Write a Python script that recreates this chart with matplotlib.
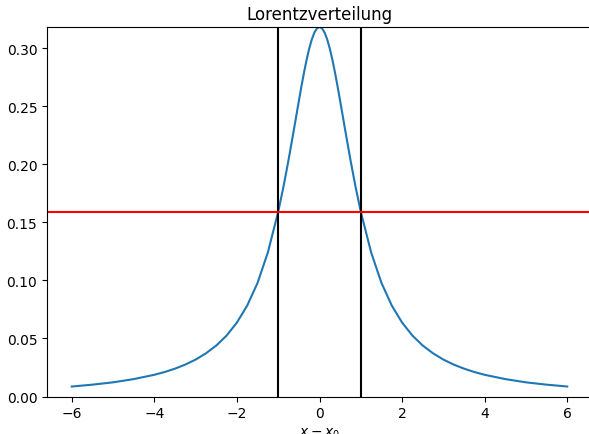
import matplotlib
matplotlib.use('Agg')
import matplotlib.pyplot as plt

# Curve values (x - x0, density), right half mirrored
x_half = [0.0625, 0.125, 0.1875, 0.25, 0.3125, 0.375, 0.4375, 0.5, 0.625, 0.75, 0.875,
          1.0, 1.25, 1.5, 1.75, 2.0, 2.25, 2.5, 2.75, 3.0, 3.25, 3.5, 3.75,
          4.0, 4.5, 5.0, 5.5, 6.0]
y_half = [0.3171, 0.3134, 0.3075, 0.2996, 0.2900, 0.2791, 0.2672, 0.2546, 0.2289, 0.2037,
          0.1803, 0.1592, 0.1242, 0.0979, 0.0784, 0.0637, 0.0525, 0.0439, 0.0372, 0.0318,
          0.0275, 0.0240, 0.0211, 0.0187, 0.0150, 0.0122, 0.0102, 0.0086]
peak = 0.3183

x_vals = [-x for x in x_half[::-1]] + [0.0] + x_half
y_vals = y_half[::-1] + [peak] + y_half

half_width = [-1.0, 1.0]
half_max = 0.1592

fig = plt.figure(figsize=(5.89, 4.35), dpi=100)
ax = fig.add_axes([47 / 589, (435 - 397.5) / 435, 545 / 589, (397.5 - 28) / 435])

ax.plot(x_vals, y_vals, color='#1f77b4')
for xv in half_width:
    ax.axvline(xv, color='black')
ax.axhline(half_max, color='red')

ax.set_xlim(-6.6, 6.6)
ax.set_ylim(0, max(y_vals))
ax.set_title('Lorentzverteilung')
ax.set_xlabel('$x - x_0$')

fig.savefig('out.png', dpi=100)
